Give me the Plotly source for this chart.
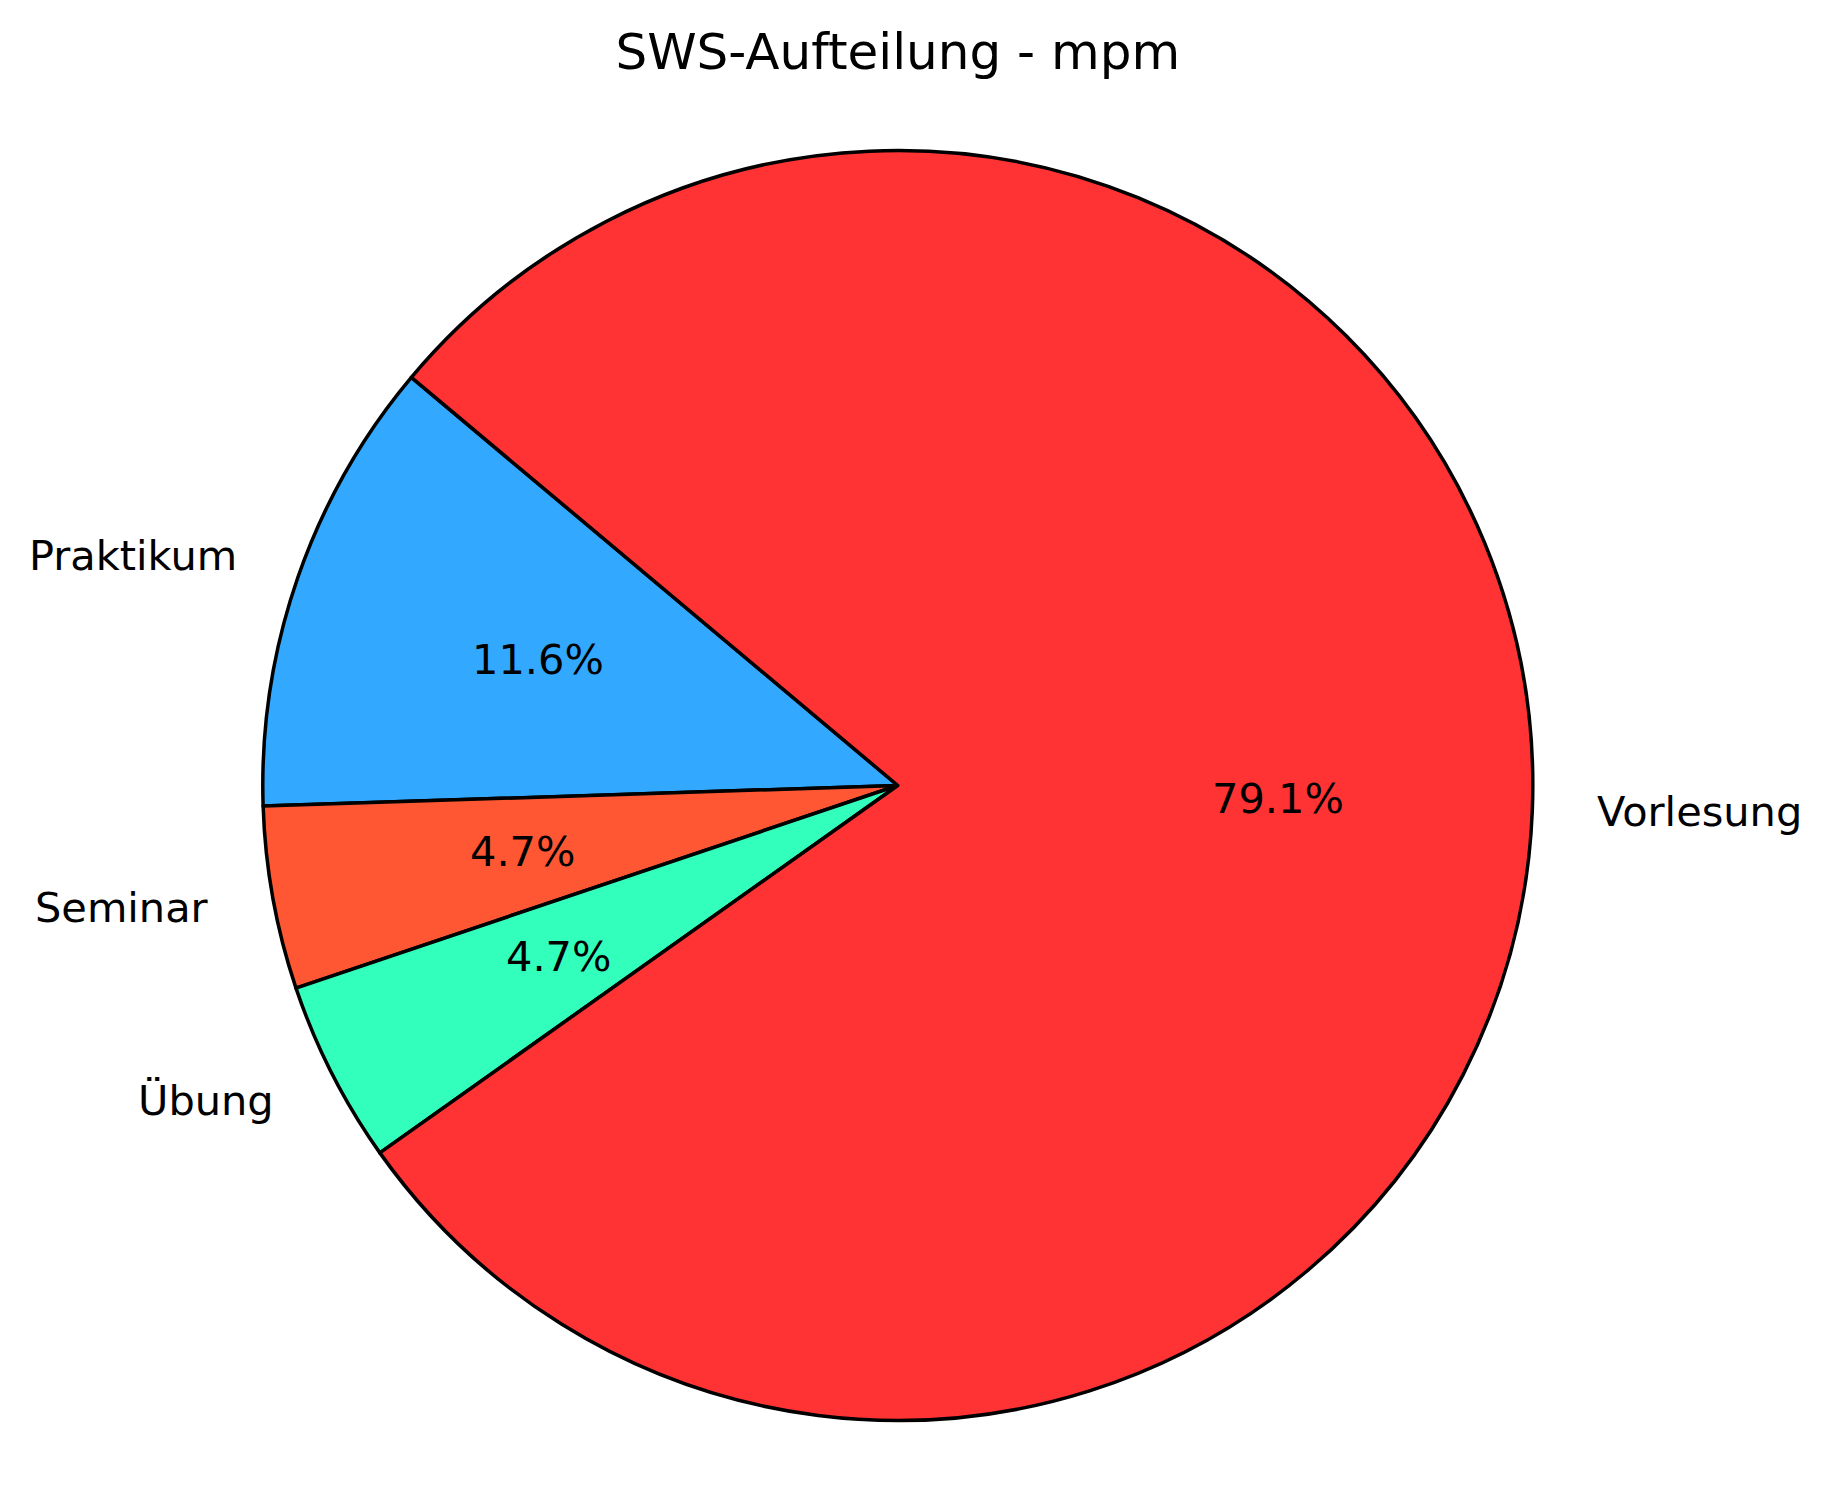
import math
import plotly.graph_objects as go

# Data
categories = ["Praktikum", "Seminar", "Übung", "Vorlesung"]
sws_values = [5, 2, 2, 34]
slice_colors = ["#33A8FF", "#FF5733", "#33FFBD", "#FF3333"]
title_text = "SWS-Aufteilung - mpm"

# Layout geometry (screen pixels, from top-left of window)
W, H = 1830, 1509
OFF = 8                      # default page body margin
Wf, Hf = W - 2 * OFF, H - 2 * OFF
cx, cy = 897.8, 785.5        # pie centre
R = 635.0                    # pie radius
start_angle = 140.0          # degrees, math convention, counter-clockwise
label_dist = 1.1
pct_dist = 0.6
FONT = "DejaVu Sans"
TEXT_SIZE = 41.5
TITLE_SIZE = 50


def to_paper(sx, sy):
    return (sx - OFF) / Wf, 1 - (sy - OFF) / Hf


total = sum(sws_values)
first_span = 360.0 * sws_values[0] / total

d0 = to_paper(cx - R, cy + R)
d1 = to_paper(cx + R, cy - R)

fig = go.Figure()
fig.add_trace(go.Pie(
    labels=categories,
    values=sws_values,
    sort=False,
    direction="counterclockwise",
    rotation=90 - start_angle - first_span,
    marker=dict(colors=slice_colors, line=dict(color="black", width=3.5)),
    textinfo="none",
    hoverinfo="skip",
    showlegend=False,
    domain=dict(x=[d0[0], d1[0]], y=[d0[1], d1[1]]),
))

annotations = []
theta = start_angle
for name, v in zip(categories, sws_values):
    frac = v / total
    span = 360.0 * frac
    mid = math.radians(theta + span / 2)
    theta += span
    lx, ly = to_paper(cx + label_dist * R * math.cos(mid),
                      cy - label_dist * R * math.sin(mid) - 2)
    annotations.append(dict(
        x=lx, y=ly, xref="paper", yref="paper",
        text=name, showarrow=False,
        xanchor="left" if math.cos(mid) > 0 else "right", yanchor="middle",
        font=dict(family=FONT, size=TEXT_SIZE, color="black"), borderpad=0,
    ))
    px, py = to_paper(cx + pct_dist * R * math.cos(mid),
                      cy - pct_dist * R * math.sin(mid) - 2)
    annotations.append(dict(
        x=px, y=py, xref="paper", yref="paper",
        text=f"{100 * frac:.1f}%", showarrow=False,
        xanchor="center", yanchor="middle",
        font=dict(family=FONT, size=TEXT_SIZE, color="black"), borderpad=0,
    ))

tx, ty = to_paper(cx, 51)
fig.update_layout(
    width=Wf, height=Hf,
    margin=dict(l=0, r=0, t=0, b=0),
    paper_bgcolor="white", plot_bgcolor="white",
    title=dict(text=title_text, x=tx, xanchor="center",
               y=ty, yanchor="middle", yref="paper",
               font=dict(family=FONT, size=TITLE_SIZE, color="black")),
    annotations=annotations,
)

fig.write_html("out.html")
